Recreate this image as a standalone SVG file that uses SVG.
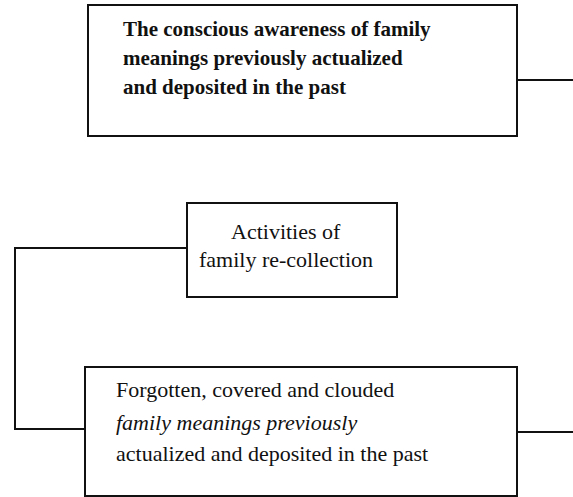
<svg xmlns="http://www.w3.org/2000/svg" width="573" height="497" viewBox="0 0 573 497">
<style>
.box{fill:#fff;stroke:#111;stroke-width:2}
.conn{fill:none;stroke:#111;stroke-width:2}
text{font-family:"Liberation Serif","Times New Roman",serif;font-size:22px;fill:#111}
.b{font-weight:bold;font-size:21px}
.i{font-style:italic}
</style>
<rect width="573" height="497" fill="#fff"/>
<g id="connectors">
<line class="conn" x1="517" y1="80" x2="573" y2="80"/>
<polyline class="conn" points="187,248 15,248 15,429 85,429"/>
<line class="conn" x1="517" y1="432" x2="573" y2="432"/>
</g>
<g id="node-conscious">
<rect class="box" x="88" y="5" width="429" height="131"/>
<text class="b" x="123" y="36">The conscious awareness of family</text>
<text class="b" x="123" y="65">meanings previously actualized</text>
<text class="b" x="123" y="94">and deposited in the past</text>
</g>
<g id="node-activities">
<rect class="box" x="187" y="203" width="210" height="94"/>
<text x="231" y="239">Activities of</text>
<text x="199" y="267">family re-collection</text>
</g>
<g id="node-forgotten">
<rect class="box" x="85" y="367" width="432" height="129"/>
<text x="116" y="397">Forgotten, covered and clouded</text>
<text class="i" x="116" y="430">family meanings previously</text>
<text x="116" y="461">actualized and deposited in the past</text>
</g>
</svg>
